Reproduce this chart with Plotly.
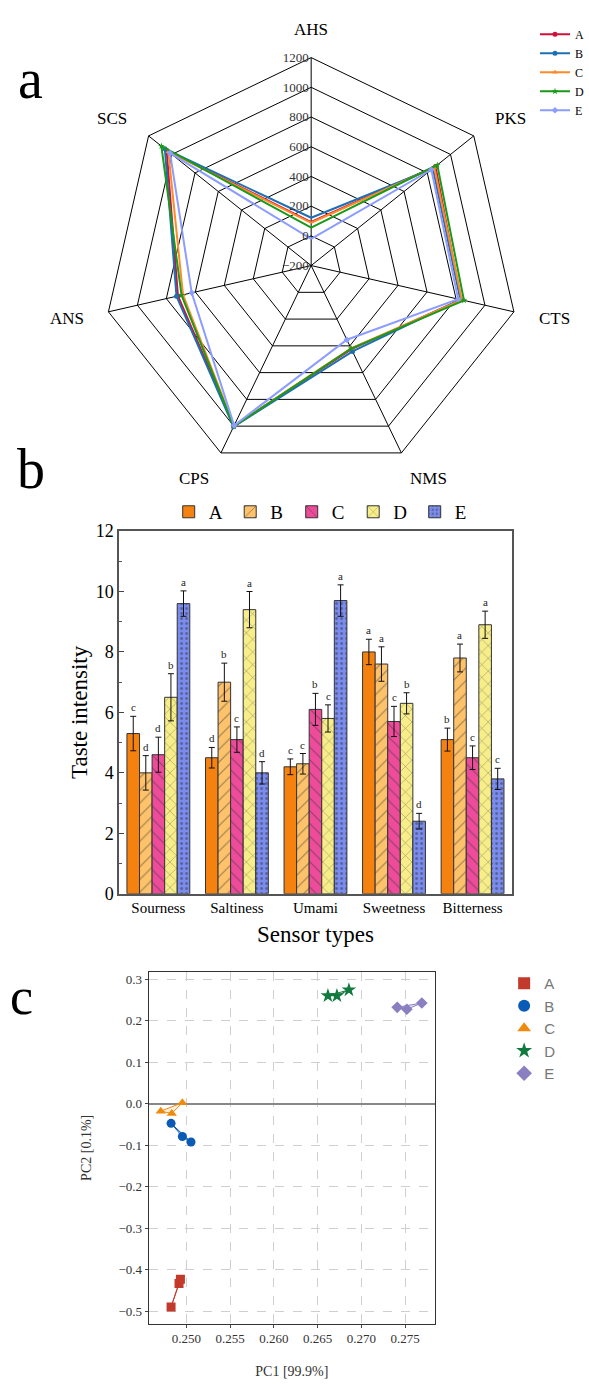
import math
import plotly.graph_objects as go

SERIF = "Liberation Serif"
SANS = "Liberation Sans"

# ---------------- Panel a: radar (electronic nose sensors) ----------------
sensors = ["AHS", "PKS", "CTS", "NMS", "CPS", "ANS", "SCS"]
radar_groups = ["A", "B", "C", "D", "E"]
radar_A = [93, 870, 835, 425, 1000, 720, 1045]
radar_B = [122, 848, 830, 442, 1005, 730, 1060]
radar_C = [88, 860, 840, 418, 998, 685, 1030]
radar_D = [55, 886, 855, 420, 1002, 695, 1090]
radar_E = [-20, 835, 815, 354, 995, 625, 1015]
radar_vals = [radar_A, radar_B, radar_C, radar_D, radar_E]
radar_colors = ["#D0103A", "#1F6FB5", "#FF8A2A", "#1A9A1A", "#8C9CFF"]
radar_symbols = ["circle", "circle", "triangle-up", "star", "diamond"]
radar_ticks = [-200, 0, 200, 400, 600, 800, 1000, 1200]

# ---------------- Panel b: taste intensity bars ----------------
tastes = ["Sourness", "Saltiness", "Umami", "Sweetness", "Bitterness"]
bar_groups = ["A", "B", "C", "D", "E"]
taste_A = [5.3, 4.5, 4.2, 8.0, 5.1]
taste_B = [4.0, 7.0, 4.3, 7.6, 7.8]
taste_C = [4.6, 5.1, 6.1, 5.7, 4.5]
taste_D = [6.5, 9.4, 5.8, 6.3, 8.9]
taste_E = [9.6, 4.0, 9.7, 2.4, 3.8]
err_A = [0.57, 0.34, 0.26, 0.42, 0.38]
err_B = [0.57, 0.63, 0.34, 0.57, 0.46]
err_C = [0.58, 0.42, 0.53, 0.50, 0.39]
err_D = [0.78, 0.60, 0.45, 0.35, 0.45]
err_E = [0.42, 0.37, 0.52, 0.26, 0.35]
let_A = ["c", "d", "c", "a", "b"]
let_B = ["d", "b", "c", "a", "a"]
let_C = ["d", "c", "b", "c", "c"]
let_D = ["b", "a", "c", "b", "a"]
let_E = ["a", "d", "a", "d", "c"]
taste_vals = [taste_A, taste_B, taste_C, taste_D, taste_E]
taste_errs = [err_A, err_B, err_C, err_D, err_E]
taste_lets = [let_A, let_B, let_C, let_D, let_E]
bar_colors = ["#F5820F", "#FDC26A", "#EE4B9B", "#F7EE8A", "#7B8CF0"]
bar_patterns = ["", "/", "\\", "x", "."]

# ---------------- Panel c: PCA ----------------
pca_groups = ["A", "B", "C", "D", "E"]
pc1_A = [0.24825, 0.24916, 0.24932]
pc2_A = [-0.4897, -0.4330, -0.4226]
pc1_B = [0.24825, 0.24954, 0.25053]
pc2_B = [-0.0474, -0.0790, -0.0924]
pc1_C = [0.24707, 0.24833, 0.24954]
pc2_C = [-0.0180, -0.0237, 0.0024]
pc1_D = [0.26617, 0.26720, 0.26857]
pc2_D = [0.2600, 0.2600, 0.2740]
pc1_E = [0.27409, 0.27519, 0.27690]
pc2_E = [0.2320, 0.2275, 0.2425]
pc1_vals = [pc1_A, pc1_B, pc1_C, pc1_D, pc1_E]
pc2_vals = [pc2_A, pc2_B, pc2_C, pc2_D, pc2_E]
pca_colors = ["#C23A2B", "#0A5BB5", "#F08A0C", "#127A3E", "#8A7FC0"]
pca_fills = ["rgba(194,58,43,0.15)", "rgba(10,91,181,0.15)", "rgba(240,138,12,0.15)",
             "rgba(18,122,62,0.15)", "rgba(138,127,192,0.2)"]
pca_symbols = ["square", "circle", "triangle-up", "star", "diamond"]
pc1_ticks = [0.250, 0.255, 0.260, 0.265, 0.270, 0.275]
pc2_ticks = [0.3, 0.2, 0.1, 0.0, -0.1, -0.2, -0.3, -0.4, -0.5]

W, H = 589, 1384
fig = go.Figure()

# radar traces
for g, vals, col, sym in zip(radar_groups, radar_vals, radar_colors, radar_symbols):
    fig.add_trace(go.Scatterpolar(
        r=vals + [vals[0]], theta=sensors + [sensors[0]], name=g,
        mode="lines+markers", line=dict(color=col, width=2),
        marker=dict(color=col, size=5, symbol=sym), legend="legend",
        subplot="polar"))

# bar traces
offsets = [-0.32, -0.16, 0.0, 0.16, 0.32]
for i, (g, vals, errs, col, pat) in enumerate(zip(bar_groups, taste_vals, taste_errs, bar_colors, bar_patterns)):
    fig.add_trace(go.Bar(
        x=tastes, y=vals, name=g, legend="legend2", xaxis="x", yaxis="y",
        marker=dict(color=col, line=dict(color="#333333", width=1),
                    pattern=dict(shape=pat, fgcolor="#333333", size=9 if pat != "." else 5,
                                 solidity=0.12 if pat != "." else 0.25)),
        error_y=dict(type="data", array=errs, color="#111111", thickness=1, width=3)))

annotations = []
for i in range(5):
    for j in range(5):
        annotations.append(dict(
            x=j + offsets[i], y=taste_vals[i][j] + taste_errs[i][j], xref="x", yref="y",
            text=taste_lets[i][j], showarrow=False, yanchor="bottom", yshift=1,
            font=dict(family=SERIF, size=11, color="#222")))

# PCA traces
for g, xs, ys, col, fc, sym in zip(pca_groups, pc1_vals, pc2_vals, pca_colors, pca_fills, pca_symbols):
    fig.add_trace(go.Scatter(
        x=xs + [xs[0]], y=ys + [ys[0]], mode="lines", fill="toself", fillcolor=fc,
        line=dict(color=col, width=1), showlegend=False, hoverinfo="skip",
        xaxis="x2", yaxis="y2"))
    fig.add_trace(go.Scatter(
        x=xs, y=ys, mode="markers", name=g, legend="legend3",
        marker=dict(color=col, size=9 if sym != "star" else 11, symbol=sym),
        xaxis="x2", yaxis="y2"))

def px_x(p):
    return p / W

def px_y(p):
    return 1 - p / H

# radar geometry (pixels)
CX, CY, R = 311.7, 259.3, 211

# sensor labels placed just outside each vertex of the heptagon
for k, lab in enumerate(sensors):
    th = 2 * math.pi * k / len(sensors)
    s, c = math.sin(th), math.cos(th)
    lx = CX + R * s + 39 * math.copysign(math.sqrt(abs(s)), s)
    ly = CY - R * c - 28.6 * c
    annotations.append(dict(text=lab, x=px_x(lx), y=px_y(ly), xref="paper", yref="paper",
                            showarrow=False, xanchor="center", yanchor="middle",
                            font=dict(family=SERIF, size=17, color="black")))

# panel letters
for txt, x, y, sz in [("a", 31, 70, 56), ("b", 31, 466, 56), ("c", 22, 1001, 52)]:
    annotations.append(dict(text=txt, x=px_x(x), y=px_y(y), xref="paper", yref="paper",
                            showarrow=False, xanchor="center", yanchor="middle",
                            font=dict(family=SERIF, size=sz, color="black")))

fig.update_layout(
    width=W, height=H, margin=dict(l=0, r=0, t=0, b=0),
    paper_bgcolor="white", plot_bgcolor="white",
    font=dict(family=SERIF, color="black"),
    barmode="group", bargap=0.2, bargroupgap=0,
    polar=dict(
        domain=dict(x=[px_x(CX - R), px_x(CX + R)], y=[px_y(CY + R), px_y(CY - R)]),
        gridshape="linear", bgcolor="white",
        radialaxis=dict(range=[-200, 1200], tickvals=radar_ticks, angle=90, tickangle=90,
                        side="counterclockwise", showline=False, gridcolor="black",
                        gridwidth=1, ticks="", tickfont=dict(family=SERIF, size=13, color="#333")),
        angularaxis=dict(direction="clockwise", rotation=90, gridcolor="black",
                         linecolor="black", linewidth=1, ticks="", showticklabels=False),
    ),
    legend=dict(x=px_x(536), y=px_y(10), xanchor="left", yanchor="top",
                font=dict(family=SERIF, size=12), tracegroupgap=0, bgcolor="rgba(0,0,0,0)",
                itemwidth=30),
    legend2=dict(orientation="h", x=px_x(169), y=px_y(490), xanchor="left", yanchor="top",
                 font=dict(family=SERIF, size=19), entrywidth=16.5, bgcolor="rgba(0,0,0,0)"),
    legend3=dict(x=px_x(505), y=px_y(971), xanchor="left", yanchor="top",
                 font=dict(family=SANS, size=15, color="#777"), itemsizing="constant",
                 bgcolor="rgba(0,0,0,0)"),
    xaxis=dict(domain=[px_x(119.3), px_x(512.7)], range=[-0.5, 4.5], showline=True,
               linecolor="#555", linewidth=1.5, mirror=True, ticks="", ticklen=0,
               tickfont=dict(family=SERIF, size=15), anchor="y",
               title=dict(text="Sensor types", font=dict(family=SERIF, size=23), standoff=10)),
    yaxis=dict(domain=[px_y(896.7), px_y(528.7)], range=[0, 12], dtick=2, showline=True,
               linecolor="#555", linewidth=1.5, mirror=True, ticks="inside", ticklen=5,
               minor=dict(ticks="inside", ticklen=3, dtick=1, tickcolor="#555"),
               showgrid=False, zeroline=False, anchor="x",
               tickfont=dict(family=SERIF, size=18),
               title=dict(text="Taste intensity", font=dict(family=SERIF, size=23), standoff=2)),
    xaxis2=dict(domain=[px_x(149), px_x(435.7)], range=[0.2457, 0.2784], tickvals=pc1_ticks,
                tickformat=".3f", showline=True, linecolor="#333", linewidth=1.2, mirror=True,
                ticks="outside", ticklen=3, showgrid=True, gridcolor="#cfcfcf", griddash="dash",
                zeroline=False, anchor="y2", tickfont=dict(family=SERIF, size=13, color="#333"),
                title=dict(text="PC1 [99.9%]", font=dict(family=SERIF, size=14, color="#333"),
                           standoff=20)),
    yaxis2=dict(domain=[px_y(1333), px_y(976)], range=[-0.530, 0.3174], tickvals=pc2_ticks,
                tickformat=".1f", showline=True, linecolor="#333", linewidth=1.2, mirror=True,
                ticks="outside", ticklen=3, showgrid=True, gridcolor="#cfcfcf", griddash="dash",
                zeroline=True, zerolinecolor="#888", zerolinewidth=1.5, anchor="x2",
                tickfont=dict(family=SERIF, size=13, color="#333"),
                title=dict(text="PC2 [0.1%]", font=dict(family=SERIF, size=14, color="#333"),
                           standoff=23)),
    annotations=annotations,
)

fig.write_html("out.html", config={"displayModeBar": False},
               post_script="document.body.style.margin='0px';")
